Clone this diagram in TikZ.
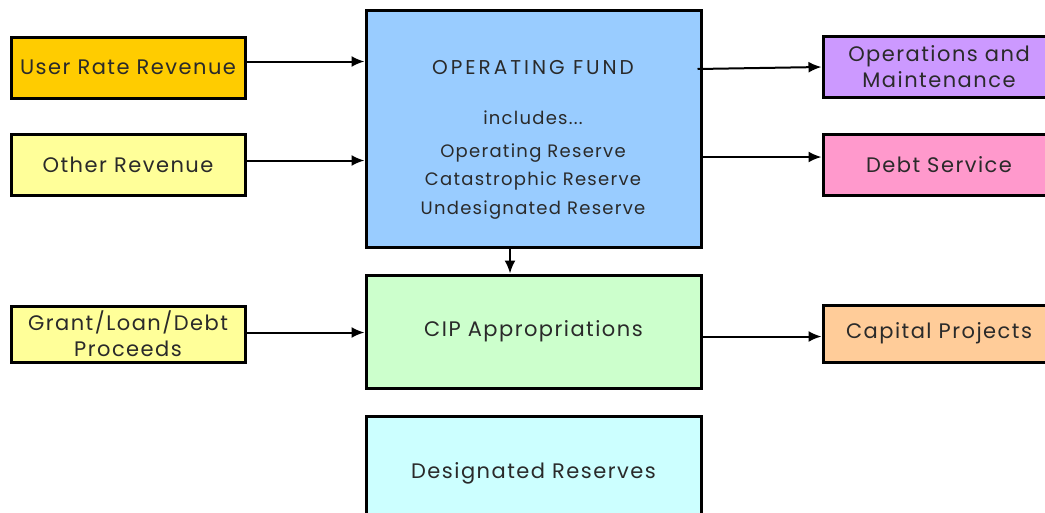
\documentclass[tikz,border=0pt]{standalone}
\usepackage{fontspec}
\setmainfont[LetterSpace=7]{Poppins}
\usetikzlibrary{arrows.meta}

\definecolor{orange1}{HTML}{FFCC00}
\definecolor{yellow1}{HTML}{FFFF99}
\definecolor{blue1}{HTML}{99CCFF}
\definecolor{green1}{HTML}{CCFFCC}
\definecolor{cyan1}{HTML}{CCFFFF}
\definecolor{purple1}{HTML}{CC99FF}
\definecolor{pink1}{HTML}{FF99CC}
\definecolor{peach1}{HTML}{FFCC99}
\definecolor{txt}{HTML}{2A2A2A}

\begin{document}
\begin{tikzpicture}[x=1pt,y=-1pt,
	box/.style={draw=black, line width=3pt, inner sep=0pt, align=center, text=txt,
		font=\fontsize{21}{26}\selectfont},
	label/.style={inner sep=0pt, text=txt, font=\fontsize{18}{22}\selectfont},
	flow/.style={line width=2pt, -{Latex[length=13pt,width=11pt]}}]
			\useasboundingbox (0,0) rectangle (1045,512);
			\clip (0,0) rectangle (1045,512);
			% left column
			\node [box, fill=orange1, minimum width=234, minimum height=61] (urr) at (128,67.5) {User Rate Revenue};
			\node [box, fill=yellow1, minimum width=234, minimum height=61] (other) at (128,164.5) {Other Revenue};
			\node [box, fill=yellow1, minimum width=234, minimum height=56] (grant) at (128,334) {Grant/Loan/Debt\\Proceeds};
			% middle column
			\node [box, fill=blue1, minimum width=335, minimum height=237] (fund) at (533.5,128.5) {};
			\node [box, fill=green1, minimum width=335, minimum height=113] (cip) at (533.5,331.5) {CIP Appropriations};
			\node [box, fill=cyan1, minimum width=335, minimum height=114] (desig) at (533.5,473) {Designated Reserves};
			\node [label, font=\fontsize{20}{22}\selectfont] (fundtitle) at (533,68) {\addfontfeatures{LetterSpace=15}OPERATING FUND};
			\node [label] (incl) at (533,118) {includes...};
			\node [label] (opres) at (533,153) {Operating Reserve};
			\node [label] (catres) at (533,181) {Catastrophic Reserve};
			\node [label] (undres) at (533,210) {Undesignated Reserve};
			% right column
			\node [box, fill=purple1, minimum width=232, minimum height=61] (om) at (939,66.5) {Operations and\\Maintenance};
			\node [box, fill=pink1, minimum width=232, minimum height=61] (debt) at (939,164.5) {Debt Service};
			\node [box, fill=peach1, minimum width=232, minimum height=57] (cap) at (939,333.5) {Capital Projects};
			% flows
			\draw [flow] ([yshift=6]urr.east) -- ([yshift=6]urr.east -| fund.west);
			\draw [flow] ([yshift=4]other.east) -- ([yshift=4]other.east -| fund.west);
			\draw [flow] ([yshift=1.5]grant.east) -- ([yshift=1.5]grant.east -| cip.west);
			\draw [flow] ([xshift=-5,yshift=59.5]fund.east) -- ([yshift=-0.5]om.west);
			\draw [flow] ([xshift=-2,yshift=-28.5]fund.east) -- ([yshift=7.5]debt.west);
			\draw [flow] ([xshift=-23.5]fund.south) -- ([xshift=-23.5]cip.north);
			\draw [flow] ([yshift=-5]cip.east) -- ([yshift=-5]cip.east -| cap.west);
\end{tikzpicture}
\end{document}
